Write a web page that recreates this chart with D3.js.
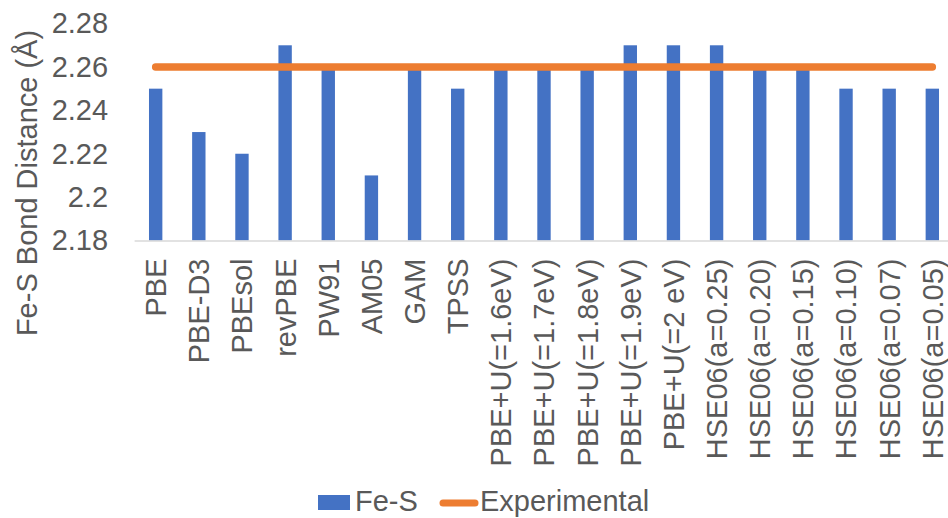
<!DOCTYPE html>
<html>
<head>
<meta charset="utf-8">
<script src="https://cdn.jsdelivr.net/npm/d3@7"></script>
<style>
  html, body { margin: 0; padding: 0; background: #ffffff; }
  svg { display: block; }
  text { font-family: "Liberation Sans", Arial, sans-serif; fill: #595959; }
</style>
</head>
<body>
<svg id="chart" width="948" height="518"></svg>
<script>
// Fe-S bond distances for each functional, with the experimental reference
const categories = [
  "PBE", "PBE-D3", "PBEsol", "revPBE", "PW91", "AM05", "GAM", "TPSS",
  "PBE+U(=1.6eV)", "PBE+U(=1.7eV)", "PBE+U(=1.8eV)", "PBE+U(=1.9eV)", "PBE+U(=2 eV)",
  "HSE06(a=0.25)", "HSE06(a=0.20)", "HSE06(a=0.15)", "HSE06(a=0.10)", "HSE06(a=0.07)", "HSE06(a=0.05)"
];
const feS = [
  2.25, 2.23, 2.22, 2.27, 2.26, 2.21, 2.26, 2.25,
  2.26, 2.26, 2.26, 2.27, 2.27,
  2.27, 2.26, 2.26, 2.25, 2.25, 2.25
];
const experimental = categories.map(() => 2.26);
const yTicks = [2.18, 2.2, 2.22, 2.24, 2.26, 2.28];
const yDomain = [2.18, 2.28];
const seriesNames = ["Fe-S", "Experimental"];

const blue = "#4472C4", orange = "#ED7D31", textGrey = "#595959", axisGrey = "#d9d9d9";
const fontSize = 29;

const svg = d3.select("#chart");
const plot = { left: 134.1, right: 953.9, top: 23.6, bottom: 240.5 };

const x = d3.scaleBand()
  .domain(categories)
  .range([plot.left, plot.right])
  .paddingInner(0.69)
  .paddingOuter(0.345);

const y = d3.scaleLinear()
  .domain(yDomain)
  .range([plot.bottom, plot.top]);

// value axis: labels only
const yAxis = svg.append("g")
  .attr("transform", `translate(${plot.left},0)`)
  .call(d3.axisLeft(y).tickValues(yTicks).tickSize(0).tickPadding(26)
        .tickFormat(d => String(+d.toFixed(2))));
yAxis.select(".domain").remove();
yAxis.selectAll("text")
  .attr("fill", textGrey)
  .style("font-size", fontSize + "px")
  .style("font-family", "'Liberation Sans', Arial, sans-serif");

// axis title
svg.append("text")
  .attr("transform", "translate(37,183) rotate(-90)")
  .attr("text-anchor", "middle")
  .style("font-size", fontSize + "px")
  .text("Fe-S Bond Distance (Å)");

// bars
svg.append("g").selectAll("rect")
  .data(categories.map((c, i) => ({ c, v: feS[i] })))
  .join("rect")
  .attr("x", d => x(d.c))
  .attr("width", x.bandwidth())
  .attr("y", d => y(d.v))
  .attr("height", d => y(yDomain[0]) - y(d.v))
  .attr("fill", blue);

// category axis
const xAxis = svg.append("g")
  .attr("transform", `translate(0,${plot.bottom})`)
  .call(d3.axisBottom(x).tickSize(0).tickSizeOuter(0));
xAxis.select(".domain").attr("stroke", axisGrey).attr("stroke-width", 1.3);
xAxis.selectAll(".tick text")
  .attr("x", 0)
  .attr("y", 0)
  .attr("dy", "0.36em")
  .attr("transform", "translate(0,18) rotate(-90)")
  .attr("fill", textGrey)
  .style("text-anchor", "end")
  .style("font-size", fontSize + "px")
  .style("font-family", "'Liberation Sans', Arial, sans-serif");

// experimental reference line
const line = d3.line()
  .x(d => x(d.c) + x.bandwidth() / 2)
  .y(d => y(d.v));
svg.append("path")
  .datum(categories.map((c, i) => ({ c, v: experimental[i] })))
  .attr("d", line)
  .attr("fill", "none")
  .attr("stroke", orange)
  .attr("stroke-width", 7.5)
  .attr("stroke-linecap", "round");

// legend
const legend = svg.append("g");
legend.append("rect")
  .attr("x", 318).attr("y", 495).attr("width", 32).attr("height", 15)
  .attr("fill", blue);
legend.append("text")
  .attr("x", 355).attr("y", 511)
  .style("font-size", fontSize + "px")
  .text(seriesNames[0]);
legend.append("line")
  .attr("x1", 443).attr("x2", 475).attr("y1", 503).attr("y2", 503)
  .attr("stroke", orange).attr("stroke-width", 7).attr("stroke-linecap", "round");
legend.append("text")
  .attr("x", 480).attr("y", 511)
  .style("font-size", fontSize + "px")
  .text(seriesNames[1]);
</script>
</body>
</html>
